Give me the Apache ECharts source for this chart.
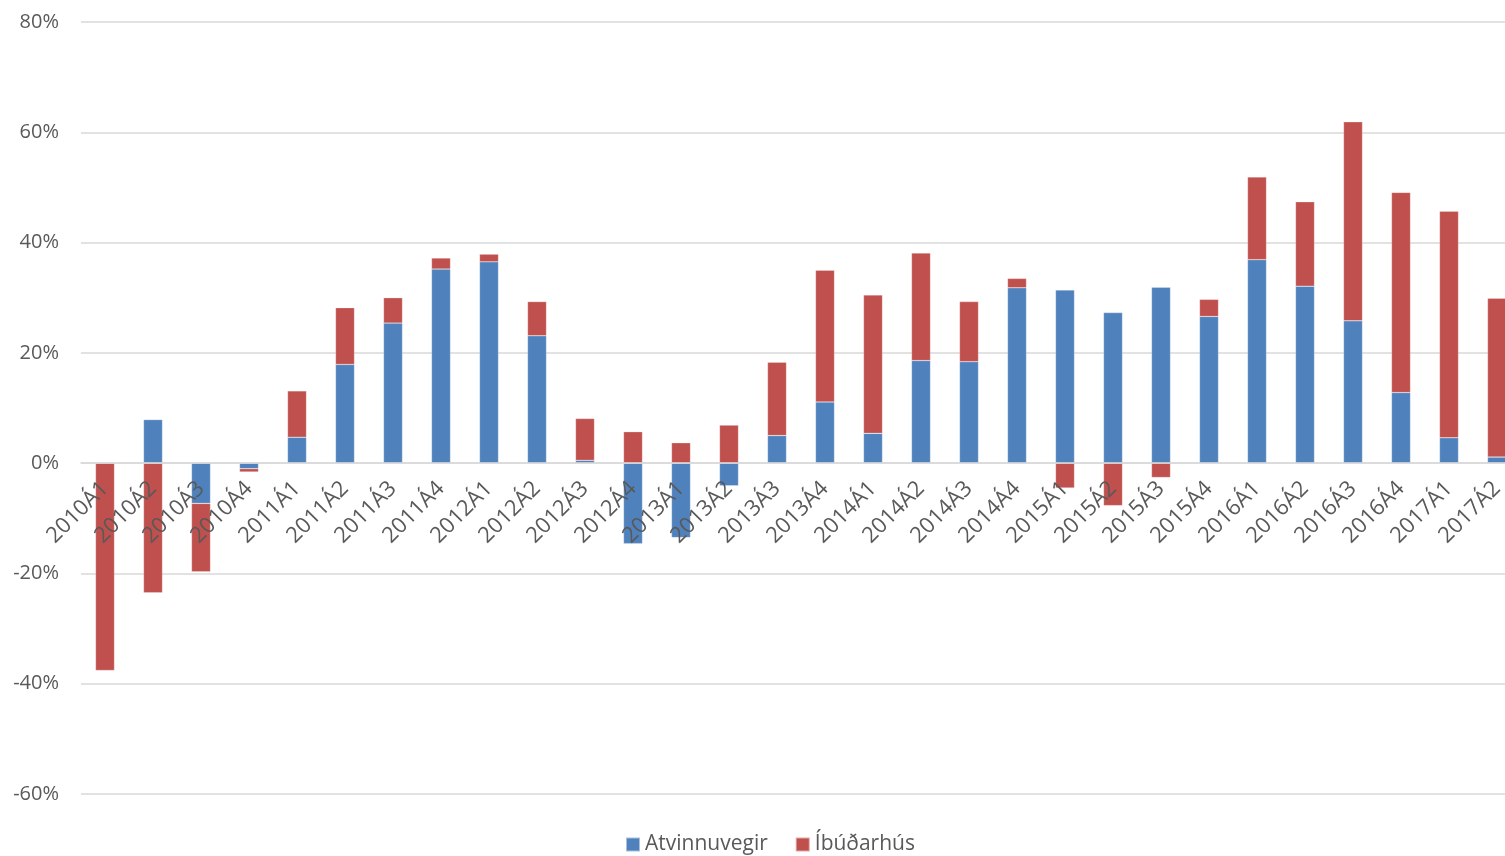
<!DOCTYPE html>
<html>
<head>
<meta charset="utf-8">
<script src="https://cdn.jsdelivr.net/npm/echarts@6/dist/echarts.min.js"></script>
<style>
  html, body { margin: 0; padding: 0; background: #fff; }
  #chart { width: 1505px; height: 856px; }
</style>
</head>
<body>
<div id="chart"></div>
<script>
// Quarters 2010Á1 .. 2017Á2
const categories = [
  '2010Á1','2010Á2','2010Á3','2010Á4',
  '2011Á1','2011Á2','2011Á3','2011Á4',
  '2012Á1','2012Á2','2012Á3','2012Á4',
  '2013Á1','2013Á2','2013Á3','2013Á4',
  '2014Á1','2014Á2','2014Á3','2014Á4',
  '2015Á1','2015Á2','2015Á3','2015Á4',
  '2016Á1','2016Á2','2016Á3','2016Á4',
  '2017Á1','2017Á2'
];

// Contribution of business investment (%)
const atvinnuvegir = [
  0, 7.9, -7.3, -1.0,
  4.7, 17.9, 25.4, 35.2,
  36.5, 23.1, 0.5, -14.6,
  -13.5, -4.1, 5.0, 11.1,
  5.4, 18.6, 18.4, 31.8,
  31.4, 27.3, 31.9, 26.6,
  36.9, 32.1, 25.8, 12.8,
  4.6, 1.1
];

// Contribution of residential investment (%)
const ibudarhus = [
  -37.6, -23.5, -12.4, -0.6,
  8.4, 10.3, 4.6, 2.0,
  1.4, 6.2, 7.6, 5.7,
  3.7, 6.9, 13.3, 23.9,
  25.1, 19.5, 10.9, 1.7,
  -4.5, -7.7, -2.6, 3.1,
  15.0, 15.3, 36.1, 36.3,
  41.1, 28.8
];

const yTicks = { min: -60, max: 80, step: 20 };

const chart = echarts.init(document.getElementById('chart'), null, { renderer: 'canvas' });

const textColor = '#595959';
const fontFamily = '"Open Sans", "Noto Sans", sans-serif';

// plot box; it runs a little past the right edge of the page
const gridBox = { left: 81, top: 22, width: 1440, height: 772 };
// lift the category axis up to the 0% line
const zeroOffset = -gridBox.height * (0 - yTicks.min) / (yTicks.max - yTicks.min);

chart.setOption({
  animation: false,
  backgroundColor: '#ffffff',
  grid: {
    left: gridBox.left, top: gridBox.top, width: gridBox.width, height: gridBox.height,
    containLabel: false,
    outerBoundsMode: 'none'
  },
  legend: {
    left: 620,
    top: 829,
    itemWidth: 14,
    itemHeight: 14,
    itemGap: 27,
    icon: 'rect',
    textStyle: { color: textColor, fontSize: 21, fontFamily: fontFamily },
    data: ['Atvinnuvegir', 'Íbúðarhús']
  },
  xAxis: {
    type: 'category',
    data: categories,
    offset: zeroOffset,
    z: 10,
    axisLine: { show: true, onZero: false, lineStyle: { color: '#d9d9d9', width: 1.5 } },
    axisTick: { show: false },
    axisLabel: {
      rotate: 45,
      interval: 0,
      margin: 22,
      color: textColor,
      fontSize: 22,
      fontFamily: fontFamily
    }
  },
  yAxis: {
    type: 'value',
    min: yTicks.min,
    max: yTicks.max,
    interval: yTicks.step,
    axisLine: { show: false },
    axisTick: { show: false },
    splitLine: { lineStyle: { color: '#d9d9d9', width: 1.5 } },
    axisLabel: {
      formatter: '{value}%',
      margin: 22,
      color: textColor,
      fontSize: 20,
      fontFamily: fontFamily
    }
  },
  series: [
    {
      name: 'Atvinnuvegir',
      type: 'bar',
      stack: 'total',
      barWidth: 19,
      itemStyle: { color: '#4F81BD', borderColor: 'rgba(255,255,255,0.5)', borderWidth: 0.5 },
      data: atvinnuvegir,
      z: 3
    },
    {
      name: 'Íbúðarhús',
      type: 'bar',
      stack: 'total',
      barWidth: 19,
      itemStyle: { color: '#C0504D', borderColor: 'rgba(255,255,255,0.5)', borderWidth: 0.5 },
      data: ibudarhus,
      z: 3
    }
  ]
});
</script>
</body>
</html>
